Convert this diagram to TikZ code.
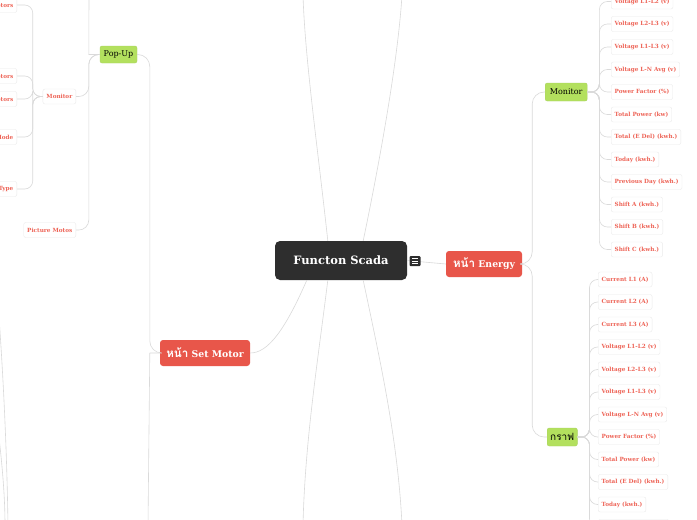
\documentclass[tikz,border=0pt]{standalone}
\usepackage{fontspec}
\setmainfont{DejaVu Serif}
\newfontfamily\thaifont[Script=Thai, Scale=1.25]{Loma}
\usetikzlibrary{calc}
\definecolor{scadadark}{HTML}{2E2E2E}
\definecolor{pagered}{HTML}{E8564A}
\definecolor{groupgreen}{HTML}{B3E05E}
\definecolor{leafred}{HTML}{EE6457}
\definecolor{linkgray}{HTML}{DADADA}
\definecolor{leafline}{HTML}{EAEAEA}
\newcommand{\leaf}[4]{
    % #1: name
    % #2: x of the left side
    % #3: y
    % #4: text
    \node[leafbox, anchor=west] (#1) at (#2,#3) {#4};
}
\newcommand{\branch}[2]{
    % #1: parent, #2: child on its right
    \draw[linkline, rounded corners=8pt] (#1.east) -- ++(12,0) |- (#2.west);
}

\begin{document}
\begin{tikzpicture}[x=1pt, y=-1pt]
    % central topic
    \tikzstyle{rootbox}=[fill=scadadark, text=white, rounded corners=5pt, minimum width=132pt, minimum height=39pt, font=\fontsize{11.5}{13}\selectfont\bfseries]
    % pages (red)
    \tikzstyle{pagebox}=[fill=pagered, text=white, rounded corners=3pt, minimum height=26pt, inner xsep=5pt, font=\fontsize{9.3}{11}\selectfont\bfseries]
    % groups (green)
    \tikzstyle{groupbox}=[fill=groupgreen, draw=groupgreen!85!gray, rounded corners=2pt, minimum height=18pt, inner xsep=3pt, font=\fontsize{8}{9}\selectfont]
    % values
    \tikzstyle{leafbox}=[fill=white, draw=leafline, text=leafred, rounded corners=2pt, minimum height=15pt, inner xsep=3.5pt, font=\fontsize{5.7}{7}\selectfont\bfseries]
    \tikzstyle{linkline}=[draw=linkgray, line width=0.6pt]
    \fill[white] (0,0) rectangle (697,520);
    \useasboundingbox (0,0) rectangle (697,520);
    \clip (0,0) rectangle (697,520);

    \node[rootbox] (root) at (341,260.5) {Functon Scada};
    \node[pagebox, minimum width=76pt] (energy) at (484,264) {{\thaifont หน้า} Energy};
    \node[pagebox, minimum width=90pt] (setmotor) at (205,353) {{\thaifont หน้า} Set Motor};
    \node[groupbox, anchor=west, minimum width=42pt] (mon) at (545,92) {Monitor};
    \node[groupbox, anchor=west, minimum width=28pt] (graph) at (547,437) {{\thaifont กราฟ}};
    \node[groupbox, minimum width=37pt, minimum height=17pt] (popup) at (118.5,54.5) {Pop-Up};
    \node[leafbox, anchor=east] (pmon) at (76,96.5) {Monitor};
    \node[leafbox, anchor=east] (picmotos) at (76,230) {Picture Motos};

    % values of Monitor
    \leaf{mv1}{611}{1.5}{Voltage L1-L2 (v)}
    \leaf{mv2}{611}{24}{Voltage L2-L3 (v)}
    \leaf{mv3}{611}{47}{Voltage L1-L3 (v)}
    \leaf{mv4}{611}{69.5}{Voltage L-N Avg (v)}
    \leaf{mv5}{611}{92}{Power Factor (\%)}
    \leaf{mv6}{611}{114.5}{Total Power (kw)}
    \leaf{mv7}{611}{137}{Total (E Del) (kwh.)}
    \leaf{mv8}{611}{159.5}{Today (kwh.)}
    \leaf{mv9}{611}{182}{Previous Day (kwh.)}
    \leaf{mv10}{611}{204.5}{Shift A (kwh.)}
    \leaf{mv11}{611}{227}{Shift B (kwh.)}
    \leaf{mv12}{611}{249.5}{Shift C (kwh.)}

    % values of the graph page
    \leaf{gv1}{598}{279.5}{Current L1 (A)}
    \leaf{gv2}{598}{302}{Current L2 (A)}
    \leaf{gv3}{598}{324.5}{Current L3 (A)}
    \leaf{gv4}{598}{347}{Voltage L1-L2 (v)}
    \leaf{gv5}{598}{369.5}{Voltage L2-L3 (v)}
    \leaf{gv6}{598}{392}{Voltage L1-L3 (v)}
    \leaf{gv7}{598}{414.5}{Voltage L-N Avg (v)}
    \leaf{gv8}{598}{437}{Power Factor (\%)}
    \leaf{gv9}{598}{459.5}{Total Power (kw)}
    \leaf{gv10}{598}{482}{Total (E Del) (kwh.)}
    \leaf{gv11}{598}{504.5}{Today (kwh.)}
    \leaf{gv12}{598}{527}{Previous Day (kwh.)}

    % values of the pop-up monitor (cut by the left edge)
    \node[leafbox, anchor=east] (pm1) at (17,5) {Motors};
    \node[leafbox, anchor=east] (pm2) at (17,76) {Motors};
    \node[leafbox, anchor=east] (pm3) at (17,99) {Motors};
    \node[leafbox, anchor=east] (pm4) at (17,137) {Mode};
    \node[leafbox, anchor=east] (pm5) at (17,189) {Type};

    % branches leaving the page
    \coordinate (upL) at (303,-5);
    \coordinate (upR) at (402,-5);
    \coordinate (dnL) at (303,525);
    \coordinate (dnR) at (402,525);
    \coordinate (smDown) at (148,525);
    \coordinate (pupTop) at (89,-5);
    \coordinate (farA) at (-3,290);
    \coordinate (farB) at (8,525);
    \coordinate (farC) at (-3,420);
    \coordinate (farD) at (5,525);

    % links from the central topic
    \draw[linkline] (root.east) -- (energy.west);
    \draw[linkline] ($(root.south west)+(32,0)$) .. controls (285,330) and (268,353) .. (setmotor.east);
    \draw[linkline] ($(root.north west)+(53,0)$) .. controls (318,150) and (305,60) .. (upL);
    \draw[linkline] ($(root.north east)+(-44,0)$) .. controls (380,160) and (398,60) .. (upR);
    \draw[linkline] ($(root.south west)+(53,0)$) .. controls (318,360) and (305,440) .. (dnL);
    \draw[linkline] ($(root.south east)+(-44,0)$) .. controls (380,360) and (398,440) .. (dnR);

    % energy page
    \draw[linkline, rounded corners=12pt] (energy.east) -- ++(10,0) |- (mon.west);
    \draw[linkline, rounded corners=12pt] (energy.east) -- ++(10,0) |- (graph.west);
    \branch{mon}{mv1}
    \branch{mon}{mv2}
    \branch{mon}{mv3}
    \branch{mon}{mv4}
    \branch{mon}{mv5}
    \branch{mon}{mv6}
    \branch{mon}{mv7}
    \branch{mon}{mv8}
    \branch{mon}{mv9}
    \branch{mon}{mv10}
    \branch{mon}{mv11}
    \branch{mon}{mv12}
    \branch{graph}{gv1}
    \branch{graph}{gv2}
    \branch{graph}{gv3}
    \branch{graph}{gv4}
    \branch{graph}{gv5}
    \branch{graph}{gv6}
    \branch{graph}{gv7}
    \branch{graph}{gv8}
    \branch{graph}{gv9}
    \branch{graph}{gv10}
    \branch{graph}{gv11}
    \branch{graph}{gv12}

    % set motor page
    \draw[linkline, rounded corners=12pt] (setmotor.west) -- ++(-10,0) |- (popup.east);
    \draw[linkline] (setmotor.west) -- ++(-10,0) -- (smDown);
    \draw[linkline] (popup.west) -- ++(-11,0) -- (pupTop);
    \draw[linkline, rounded corners=10pt] (popup.west) -- ++(-11,0) |- (pmon.east);
    \draw[linkline, rounded corners=10pt] (popup.west) -- ++(-11,0) |- (picmotos.east);
    \draw[linkline, rounded corners=8pt] (pmon.west) -- ++(-10,0) |- (pm1.east);
    \draw[linkline, rounded corners=8pt] (pmon.west) -- ++(-10,0) |- (pm2.east);
    \draw[linkline, rounded corners=8pt] (pmon.west) -- ++(-10,0) |- (pm3.east);
    \draw[linkline, rounded corners=8pt] (pmon.west) -- ++(-10,0) |- (pm4.east);
    \draw[linkline, rounded corners=8pt] (pmon.west) -- ++(-10,0) |- (pm5.east);
    \draw[linkline] (farA) .. controls (4,380) and (7,460) .. (farB);
    \draw[linkline] (farC) .. controls (3,470) and (5,500) .. (farD);

    % notes icon
    \node[fill=scadadark, rounded corners=1pt, minimum width=11pt, minimum height=10pt, inner sep=0] (notes) at (415,261) {};
    \draw[white, line width=0.7pt] ($(notes.center)+(-3,-2.5)$) -- ++(6,0);
    \draw[white, line width=0.7pt] ($(notes.center)+(-3,0)$) -- ++(6,0);
    \draw[white, line width=0.7pt] ($(notes.center)+(-3,2.5)$) -- ++(6,0);
\end{tikzpicture}
\end{document}
